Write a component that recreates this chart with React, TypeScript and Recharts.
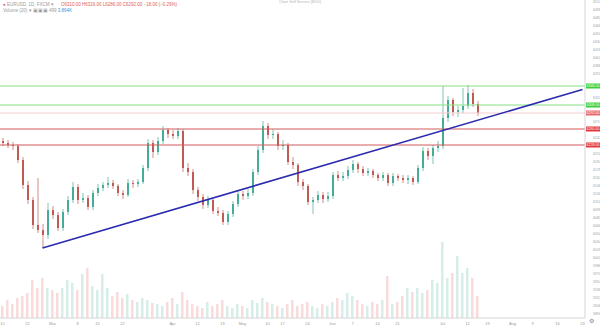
import React from "react";
import { ComposedChart, Bar, XAxis, YAxis, ReferenceLine, Cell } from "recharts";

const firstOpen = 6236;
const closes = [
  6232, 6228, 6226, 6198, 6148, 6118, 6068, 6058, 6048, 6098,
  6088, 6062, 6094, 6118, 6144, 6118, 6122, 6104, 6132, 6142,
  6148, 6152, 6146, 6132, 6128, 6152, 6150, 6154, 6182, 6232,
  6214, 6236, 6258, 6250, 6246, 6256, 6182, 6174, 6138, 6124,
  6108, 6118, 6096, 6092, 6074, 6090, 6110, 6130, 6126, 6132,
  6174, 6218, 6266, 6248, 6250, 6226, 6228, 6194, 6188, 6154,
  6146, 6114, 6118, 6128, 6120, 6126, 6168, 6162, 6166, 6178,
  6190, 6180, 6172, 6176, 6168, 6162, 6168, 6152, 6166, 6162,
  6158, 6162, 6154, 6182, 6216, 6206, 6222, 6226, 6282, 6318,
  6294, 6298, 6306, 6332, 6310, 6292,
];
const highs = [
  6242, 6238, 6234, 6230, 6204, 6156, 6124, 6162, 6070, 6112,
  6106, 6094, 6100, 6126, 6154, 6150, 6132, 6128, 6138, 6150,
  6154, 6164, 6158, 6150, 6138, 6160, 6158, 6160, 6188, 6240,
  6238, 6244, 6266, 6262, 6258, 6262, 6260, 6192, 6180, 6144,
  6130, 6126, 6122, 6104, 6098, 6096, 6116, 6138, 6136, 6140,
  6180, 6226, 6276, 6272, 6260, 6254, 6238, 6232, 6204, 6192,
  6160, 6150, 6124, 6136, 6134, 6134, 6174, 6176, 6174, 6186,
  6198, 6194, 6186, 6182, 6180, 6172, 6174, 6172, 6172, 6170,
  6168, 6168, 6166, 6188, 6224, 6222, 6228, 6236, 6346, 6326,
  6322, 6306, 6342, 6348, 6340, 6316,
];
const lows = [
  6226, 6222, 6218, 6192, 6140, 6110, 6060, 6052, 6022, 6040,
  6080, 6056, 6056, 6088, 6112, 6110, 6112, 6098, 6098, 6126,
  6136, 6142, 6140, 6126, 6120, 6124, 6142, 6144, 6150, 6176,
  6202, 6208, 6230, 6242, 6240, 6240, 6174, 6166, 6130, 6116,
  6100, 6102, 6090, 6086, 6068, 6068, 6084, 6104, 6118, 6120,
  6126, 6168, 6212, 6240, 6240, 6218, 6218, 6188, 6180, 6146,
  6138, 6108, 6090, 6112, 6112, 6114, 6120, 6156, 6156, 6160,
  6172, 6172, 6166, 6166, 6162, 6156, 6156, 6146, 6146, 6156,
  6152, 6150, 6148, 6150, 6176, 6198, 6190, 6214, 6220, 6274,
  6286, 6284, 6292, 6300, 6304, 6286,
];
const volumes = [
  12, 18, 14, 20, 22, 25, 38, 30, 40, 30,
  28, 25, 30, 38, 35, 28, 44, 50, 32, 28,
  44, 30, 22, 26, 20, 24, 18, 16, 20, 18,
  15, 14, 12, 16, 20, 14, 26, 18, 14, 12,
  10, 16, 12, 14, 18, 12, 10, 14, 12, 10,
  18, 15, 20, 16, 14, 12, 10, 14, 18, 12,
  14, 16, 12, 10, 14, 12, 16, 20, 18, 25,
  22, 18, 14, 12, 16, 14, 18, 42, 14, 16,
  22, 30, 26, 30, 25, 28, 38, 35, 76, 40,
  45, 62, 45, 50, 40, 22,
];
const totalSlots = 117;

// right-axis ticks, leaving gaps where the level boxes sit
const priceTicks = [
  5890, 5906, 5922, 5938, 5954, 5970, 5986, 6002, 6018, 6034, 6050, 6066, 6082,
  6098, 6114, 6130, 6146, 6162, 6178, 6194, 6210, 6242, 6274,
  6322, 6370, 6386, 6402, 6418, 6434, 6450, 6466, 6482, 6498, 6514,
];
const dateTickIdx = [0, 5, 10, 15, 19, 24, 34, 39, 44, 48, 53, 56, 61, 66, 70, 75, 79, 88, 93, 97, 102, 106, 111, 116];
const dateTickText = ["15", "22", "Mar", "8", "15", "22", "Apr", "12", "19", "May", "10", "17", "24", "Jun", "7", "14", "21", "Jul", "12", "19", "Aug", "9", "16", "23"];

const levels = [
  { value: 6346, color: "#86de82", box: "#3ccf3c" },
  { value: 6308, color: "#86de82", box: "#3ccf3c" },
  { value: 6292, color: "#f3cccc", box: "#e86a6a" },
  { value: 6260, color: "#d45a5a", box: "#e03a3a" },
  { value: 6228, color: "#d45a5a", box: "#e03a3a" },
];
const trendStart = { x: 8, y: 6022 };
const trendEnd = { x: 116, y: 6339 };

const UP = "#45ad97";
const DOWN = "#c05a55";

const data = Array.from({ length: totalSlots }, (_, i) => {
  if (i >= closes.length) return { i };
  return {
    i,
    o: i === 0 ? firstOpen : closes[i - 1],
    h: highs[i],
    l: lows[i],
    c: closes[i],
    vol: volumes[i],
  };
});

const Candle = (props: any) => {
  const { x, y, width, height, payload } = props;
  if (payload == null || payload.h == null) return null;
  const top = Math.min(y, y + height);
  const h = Math.abs(height);
  const k = h / (payload.h - payload.l || 1);
  const up = payload.c >= payload.o;
  const color = up ? UP : DOWN;
  const bTop = top + (payload.h - Math.max(payload.o, payload.c)) * k;
  const bBot = top + (payload.h - Math.min(payload.o, payload.c)) * k;
  const cx = x + width / 2;
  return (
    <g>
      <line x1={cx} x2={cx} y1={top} y2={top + h} stroke={color} strokeWidth={0.7} />
      <rect x={x} y={bTop} width={width} height={Math.max(bBot - bTop, 0.8)} fill={color} />
    </g>
  );
};

const boxLabel = (value: number, fill: string) => (p: any) => {
  const vb = p.viewBox;
  if (!vb) return null;
  const x = vb.x + vb.width + 1;
  return (
    <g>
      <rect x={x} y={vb.y - 2.5} width={14} height={5} fill={fill} />
      <text x={x + 7} y={vb.y + 1.3} fontSize={3.6} fill="#fff" textAnchor="middle" fontFamily="Liberation Sans, Arial">
        {value.toFixed(2)}
      </text>
    </g>
  );
};

export default function App() {
  return (
    <div style={{ position: "absolute", left: 0, top: 0, width: 600, height: 326, background: "#fff", fontFamily: "Liberation Sans, Arial, sans-serif" }}>
      <ComposedChart width={600} height={326} data={data} margin={{ top: 0, right: 0, bottom: 0, left: 0 }} barCategoryGap={1}>
        <XAxis
          dataKey="i"
          height={8}
          ticks={dateTickIdx}
          interval={0}
          tickFormatter={(v: number) => dateTickText[dateTickIdx.indexOf(v)] ?? ""}
          tick={{ fontSize: 4, fill: "#9a9a9a", dy: -2 }}
          tickLine={false}
          tickMargin={0}
          axisLine={{ stroke: "#d6d6d6" }}
        />
        <XAxis xAxisId="v" dataKey="i" hide />
        <YAxis
          orientation="right"
          width={15}
          type="number"
          domain={[5882, 6518]}
          ticks={priceTicks}
          interval={0}
          allowDataOverflow
          tick={{ fontSize: 3.6, fill: "#a0a0a0" }}
          tickLine={false}
          tickMargin={2}
          axisLine={{ stroke: "#d6d6d6" }}
        />
        <YAxis yAxisId="v" hide domain={[0, 318]} />
        <Bar xAxisId="v" yAxisId="v" dataKey="vol" isAnimationActive={false} barSize={2.5}>
          {data.map((d: any, idx) => (
            <Cell key={idx} fill={d.c >= d.o ? "rgba(69,173,151,0.22)" : "rgba(224,90,85,0.22)"} />
          ))}
        </Bar>
        {levels.map((lv, idx) => (
          <ReferenceLine
            key={idx}
            y={lv.value}
            stroke={lv.color}
            strokeWidth={1}
            label={boxLabel(lv.value, lv.box)}
          />
        ))}
        <Bar
          dataKey={(d: any) => (d.h == null ? null : [d.l, d.h])}
          isAnimationActive={false}
          barSize={2}
          shape={Candle}
        />
        <ReferenceLine segment={[trendStart, trendEnd]} stroke="#2b2bb0" strokeWidth={1.6} ifOverflow="visible" />
      </ComposedChart>
      <div style={{ position: "absolute", left: 3, top: 2, fontSize: 4.5, color: "#9b9b9b", whiteSpace: "nowrap", lineHeight: "6px" }}>
        <span style={{ color: "#e0605d" }}>●</span> EURUSD, 1D, FXCM ▾{" "}
        <span style={{ color: "#e0605d", marginLeft: 6 }}>O6310.00 H6316.00 L6286.00 C6292.00 −18.00 (−0.29%)</span>
      </div>
      <div style={{ position: "absolute", left: 3, top: 8, fontSize: 4.5, color: "#9b9b9b", whiteSpace: "nowrap", lineHeight: "6px" }}>
        Volume (20) ▾ ▣▣▣ 499 <span style={{ color: "#4a90d9" }}>3.864K</span>
      </div>
      <div style={{ position: "absolute", left: 270, top: 0, width: 60, textAlign: "center", fontSize: 3.8, color: "#b5b5b5", whiteSpace: "nowrap" }}>
        Chart Self Service (EDU)
      </div>
      <div style={{ position: "absolute", left: 589, top: 317, fontSize: 6, color: "#888" }}>⚙</div>
    </div>
  );
}
